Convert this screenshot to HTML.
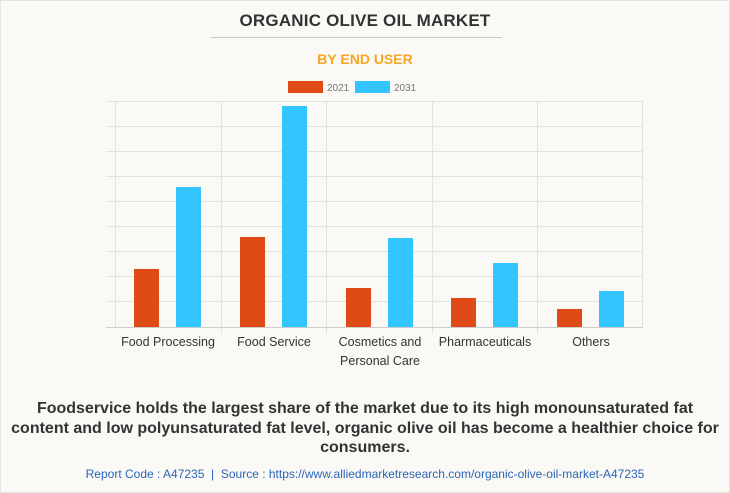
<!DOCTYPE html>
<html><head><style>
html,body{margin:0;padding:0;}
body{width:730px;height:493px;background:#faf9f5;position:relative;overflow:hidden;font-family:"Liberation Sans",Arial,sans-serif;}
.frame{position:absolute;left:0;top:0;width:728px;height:491px;border:1px solid #e4e4e4;}
.t{position:absolute;left:0;width:730px;text-align:center;}
</style></head><body>
<div class="frame"></div>
<div class="t" style="top:11px;font-size:17px;font-weight:bold;color:#333;letter-spacing:0.2px;">ORGANIC OLIVE OIL MARKET</div>
<div style="position:absolute;left:211px;top:37px;width:291px;height:1px;background:#c8c8c8;"></div>
<div class="t" style="top:51px;font-size:14px;font-weight:bold;color:#f5a623;">BY END USER</div>
<svg width="730" height="493" style="position:absolute;left:0;top:0" xmlns="http://www.w3.org/2000/svg" font-family="Liberation Sans, Arial, sans-serif">
<rect x="288" y="81" width="35" height="12" fill="#e04a16"/>
<text x="327" y="91" font-size="10" fill="#777">2021</text>
<rect x="355" y="81" width="35" height="12" fill="#33c5ff"/>
<text x="394" y="91" font-size="10" fill="#777">2031</text>
<g stroke="#e2e2e2" stroke-width="1">
<line x1="106" x2="643" y1="101.5" y2="101.5"/>
<line x1="106" x2="643" y1="126.5" y2="126.5"/>
<line x1="106" x2="643" y1="151.5" y2="151.5"/>
<line x1="106" x2="643" y1="176.5" y2="176.5"/>
<line x1="106" x2="643" y1="201.5" y2="201.5"/>
<line x1="106" x2="643" y1="226.5" y2="226.5"/>
<line x1="106" x2="643" y1="251.5" y2="251.5"/>
<line x1="106" x2="643" y1="276.5" y2="276.5"/>
<line x1="106" x2="643" y1="301.5" y2="301.5"/>
<line x1="115.5" x2="115.5" y1="101" y2="327"/>
<line x1="221.5" x2="221.5" y1="101" y2="334"/>
<line x1="326.5" x2="326.5" y1="101" y2="334"/>
<line x1="432.5" x2="432.5" y1="101" y2="334"/>
<line x1="537.5" x2="537.5" y1="101" y2="334"/>
<line x1="642.5" x2="642.5" y1="101" y2="327"/>
</g>
<g fill="#e04a16">
<rect x="134" y="269" width="25" height="58"/>
<rect x="240" y="237" width="25" height="90"/>
<rect x="346" y="288" width="25" height="39"/>
<rect x="451" y="298" width="25" height="29"/>
<rect x="557" y="309" width="25" height="18"/>
</g>
<g fill="#33c5ff">
<rect x="176" y="187" width="25" height="140"/>
<rect x="282" y="106" width="25" height="221"/>
<rect x="388" y="238" width="25" height="89"/>
<rect x="493" y="263" width="25" height="64"/>
<rect x="599" y="291" width="25" height="36"/>
</g>
<line x1="106" x2="643" y1="327.5" y2="327.5" stroke="#ccc"/>
<g font-size="12.5" fill="#333" text-anchor="middle">
<text x="168" y="346">Food Processing</text>
<text x="274" y="346">Food Service</text>
<text x="380" y="346">Cosmetics and</text>
<text x="380" y="365">Personal Care</text>
<text x="485" y="346">Pharmaceuticals</text>
<text x="591" y="346">Others</text>
</g>
</svg>
<div class="t" style="top:399px;font-size:16px;font-weight:bold;color:#333;line-height:19.5px;letter-spacing:0px;">Foodservice holds the largest share of the market due to its high monounsaturated fat<br>content and low polyunsaturated fat level, organic olive oil has become a healthier choice for<br>consumers.</div>
<div class="t" style="top:467px;font-size:12px;color:#2a66b8;">Report Code : A47235 &nbsp;|&nbsp; Source : https://www.alliedmarketresearch.com/organic-olive-oil-market-A47235</div>
</body></html>
